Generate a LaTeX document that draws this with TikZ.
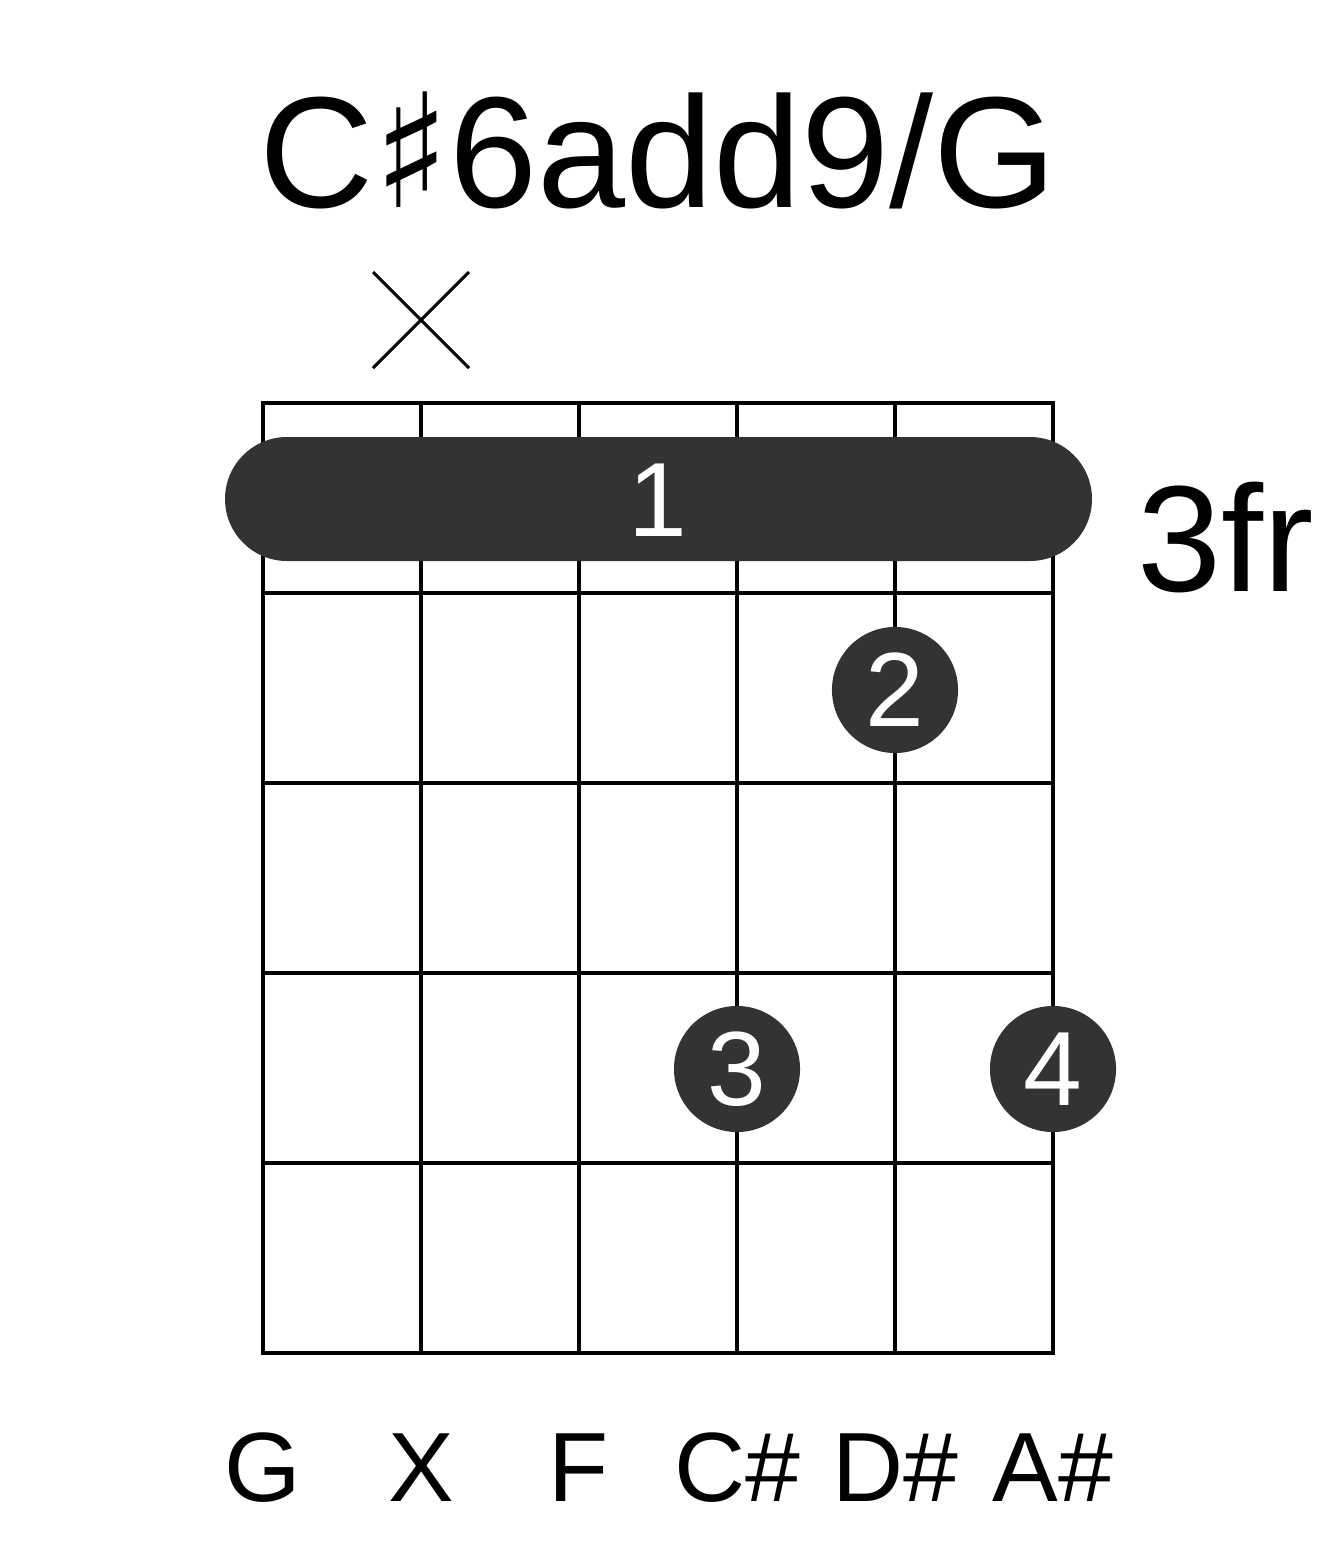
\documentclass[tikz,border=0pt]{standalone}
\usepackage{fontspec}
\setmainfont{Liberation Sans}
\newfontfamily\symfont{DejaVu Sans}
\definecolor{dotgray}{RGB}{51,51,51}
\tikzset{
    gridline/.style = {line width=0.4mm, black, line cap=rect},
    finger/.style   = {circle, fill=dotgray, minimum size=1.26cm, inner sep=0pt,
            text=white, font=\fontsize{30}{30}\selectfont},
    notename/.style = {font=\fontsize{28}{28}\selectfont},
}
\begin{document}
\begin{tikzpicture}[x=0.01cm, y=-0.01cm]
    \useasboundingbox (0,0) rectangle (1317,1551);
    % title
    \node (title) at (658,150) {\fontsize{45}{45}\selectfont C{\symfont ♯}6add9/G};
    % muted string
    \draw[line width=0.3mm] (373,272) -- (469,368) (469,272) -- (373,368);
    % strings and frets
    \foreach \i in {0,...,5} {
        \draw[gridline] (263+158*\i,403) -- (263+158*\i,1353);
        \draw[gridline] (263,403+190*\i) -- (1053,403+190*\i);
    }
    % barre
    \fill[dotgray, rounded corners=0.62cm] (225,437) rectangle (1092,561);
    \node[text=white, font=\fontsize{30}{30}\selectfont] (barre) at (658,500) {1};
    \node[font=\fontsize{43}{43}\selectfont, anchor=west] (fret) at (1125,538) {3fr};
    % fingers
    \node[finger] (f2) at (895,690) {2};
    \node[finger] (f3) at (737,1069) {3};
    \node[finger] (f4) at (1053,1069) {4};
    % note names
    \foreach \n [count=\i from 0] in {G,X,F,C\#,D\#,A\#}
        \node[notename] (n\i) at (263+158*\i,1468) {\n};
\end{tikzpicture}
\end{document}
